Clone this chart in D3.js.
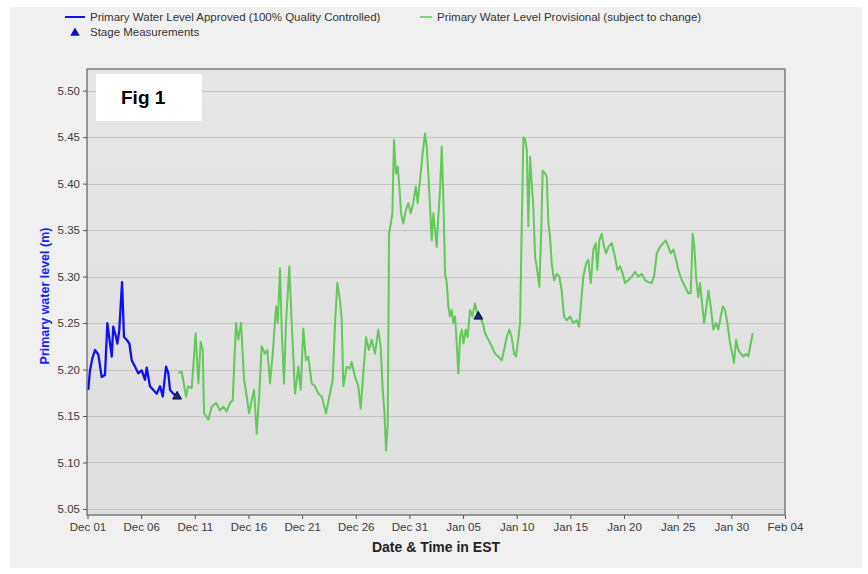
<!DOCTYPE html>
<html>
<head>
<meta charset="utf-8">
<script src="https://cdn.jsdelivr.net/npm/d3@7"></script>
<style>
  html, body { margin: 0; padding: 0; background: #ffffff; }
  svg { display: block; }
  text { font-family: "Liberation Sans", Arial, sans-serif; }
</style>
</head>
<body>
<svg id="chart" width="868" height="574"></svg>
<script>
// Series: day offsets from Dec 01 and water levels (m)
const approvedDays = [0.07,0.23,0.45,0.70,1.01,1.32,1.63,1.85,2.10,2.26,2.40,2.66,2.78,2.96,3.22,3.40,3.65,3.90,4.12,4.43,4.73,5.05,5.36,5.52,5.82,6.13,6.45,6.76,7.01,7.32,7.53,7.69,8.00,8.31,8.62];
const approvedLevels = [5.178,5.199,5.212,5.221,5.216,5.192,5.194,5.250,5.228,5.214,5.246,5.235,5.228,5.242,5.294,5.235,5.232,5.228,5.210,5.203,5.196,5.199,5.189,5.202,5.182,5.178,5.174,5.182,5.171,5.203,5.196,5.178,5.174,5.171,5.169];

const provisionalDays = [8.46,8.78,9.18,9.39,9.71,10.08,10.33,10.55,10.74,10.86,11.26,11.57,11.98,12.35,12.66,12.97,13.28,13.53,13.84,14.05,14.31,14.59,14.84,15.05,15.30,15.52,15.77,16.01,16.23,16.54,16.76,17.01,17.26,17.57,17.73,17.94,18.10,18.31,18.50,18.81,19.03,19.34,19.65,19.87,20.11,20.36,20.58,20.89,21.20,21.51,21.83,22.23,22.54,22.85,23.07,23.28,23.53,23.69,23.84,24.16,24.46,24.62,24.93,25.24,25.46,25.70,25.96,26.21,26.49,26.79,27.10,27.32,27.51,27.66,27.82,27.98,28.10,28.26,28.41,28.56,28.75,28.91,29.06,29.22,29.43,29.68,29.90,30.12,30.36,30.59,30.77,30.99,31.24,31.45,31.61,31.76,31.92,32.08,32.23,32.39,32.54,32.69,32.85,33.01,33.16,33.32,33.48,33.63,33.78,33.94,34.09,34.25,34.41,34.56,34.72,34.88,35.03,35.25,35.43,35.65,35.86,36.11,36.33,36.58,36.83,37.05,37.35,37.67,37.98,38.28,38.60,38.82,39.07,39.31,39.53,39.75,39.93,40.09,40.31,40.47,40.62,40.78,40.94,41.08,41.24,41.40,41.55,41.71,41.86,42.11,42.27,42.42,42.64,42.80,42.95,43.10,43.26,43.48,43.73,43.97,44.19,44.41,44.66,44.97,45.27,45.59,45.81,45.99,46.21,46.46,46.67,46.90,47.14,47.36,47.51,47.70,47.92,48.14,48.32,48.54,48.85,49.16,49.38,49.63,49.88,50.09,50.40,50.72,51.02,51.33,51.65,51.96,52.26,52.58,52.80,53.05,53.36,53.66,53.89,54.13,54.35,54.60,54.85,55.06,55.38,55.69,55.99,56.21,56.40,56.55,56.71,56.92,57.08,57.24,57.46,57.64,57.86,58.08,58.32,58.57,58.79,59.01,59.20,59.41,59.63,59.88,60.09,60.25,60.44,60.65,60.88,61.12,61.37,61.58,61.81,61.99];
const provisionalLevels = [5.196,5.198,5.171,5.182,5.180,5.239,5.185,5.230,5.221,5.153,5.146,5.160,5.164,5.156,5.160,5.155,5.164,5.167,5.250,5.232,5.250,5.189,5.171,5.153,5.167,5.178,5.131,5.174,5.225,5.217,5.221,5.185,5.217,5.268,5.250,5.309,5.243,5.185,5.250,5.311,5.250,5.174,5.203,5.178,5.244,5.210,5.214,5.185,5.182,5.174,5.171,5.153,5.171,5.189,5.250,5.293,5.275,5.253,5.182,5.203,5.201,5.208,5.192,5.182,5.158,5.196,5.235,5.221,5.232,5.217,5.243,5.225,5.178,5.156,5.113,5.142,5.346,5.357,5.368,5.447,5.411,5.418,5.397,5.368,5.357,5.372,5.379,5.368,5.379,5.397,5.379,5.404,5.433,5.454,5.440,5.411,5.375,5.339,5.368,5.350,5.332,5.364,5.393,5.440,5.386,5.303,5.293,5.268,5.257,5.264,5.250,5.257,5.228,5.196,5.235,5.243,5.228,5.243,5.235,5.264,5.257,5.271,5.260,5.257,5.250,5.239,5.232,5.225,5.217,5.214,5.210,5.221,5.235,5.243,5.235,5.217,5.214,5.228,5.250,5.357,5.450,5.448,5.436,5.354,5.429,5.400,5.375,5.321,5.311,5.289,5.343,5.414,5.411,5.407,5.357,5.343,5.314,5.296,5.303,5.300,5.285,5.257,5.253,5.257,5.250,5.253,5.246,5.271,5.300,5.314,5.318,5.293,5.329,5.336,5.307,5.339,5.346,5.332,5.325,5.332,5.336,5.321,5.307,5.311,5.303,5.293,5.296,5.300,5.305,5.300,5.303,5.296,5.294,5.293,5.300,5.325,5.332,5.336,5.339,5.332,5.325,5.329,5.318,5.307,5.296,5.289,5.282,5.282,5.346,5.332,5.300,5.278,5.293,5.275,5.250,5.264,5.285,5.268,5.243,5.250,5.243,5.257,5.268,5.264,5.250,5.228,5.217,5.207,5.232,5.221,5.217,5.214,5.217,5.214,5.228,5.239];

const stageDays = [8.35, 36.42];
const stageLevels = [5.171, 5.257];

const levelTicks = [5.05, 5.10, 5.15, 5.20, 5.25, 5.30, 5.35, 5.40, 5.45, 5.50];
const tickDayOffsets = [0, 5, 10, 15, 20, 25, 30, 35, 40, 45, 50, 55, 60, 65];

const legendItems = [
  { label: "Primary Water Level Approved (100% Quality Controlled)", kind: "line", color: "#1010f0" },
  { label: "Primary Water Level Provisional (subject to change)", kind: "line", color: "#62c95a" },
  { label: "Stage Measurements", kind: "triangle", color: "#1010c8" }
];

const startDate = new Date(2012, 11, 1);
const toDate = d => new Date(startDate.getTime() + d * 864e5);

const svg = d3.select("#chart");

// page panel
svg.append("rect").attr("x", 10).attr("y", 7).attr("width", 852).attr("height", 561).attr("fill", "#f0f0f0");

const plot = { left: 87, top: 69, right: 785, bottom: 515 };

const x = d3.scaleTime()
  .domain([startDate, toDate(65)])
  .range([plot.left + 0.5, plot.right]);
const y = d3.scaleLinear()
  .domain([5.0435, 5.5233])
  .range([plot.bottom, plot.top]);

// plot background
const defs = svg.append("defs");
const grad = defs.append("linearGradient").attr("id", "bg").attr("x1", 0).attr("y1", 0).attr("x2", 0).attr("y2", 1);
grad.append("stop").attr("offset", "0%").attr("stop-color", "#e6e6e6");
grad.append("stop").attr("offset", "100%").attr("stop-color", "#dedede");
svg.append("rect")
  .attr("x", plot.left).attr("y", plot.top)
  .attr("width", plot.right - plot.left).attr("height", plot.bottom - plot.top)
  .attr("fill", "url(#bg)");

// horizontal gridlines
svg.append("g").selectAll("line").data(levelTicks).join("line")
  .attr("x1", plot.left).attr("x2", plot.right)
  .attr("y1", d => Math.round(y(d)) + 0.5).attr("y2", d => Math.round(y(d)) + 0.5)
  .attr("stroke", "#c3c3c3").attr("stroke-width", 1);

// "Fig 1" label box
svg.append("rect").attr("x", 96).attr("y", 74).attr("width", 106).attr("height", 47).attr("fill", "#ffffff");
svg.append("text").attr("x", 121).attr("y", 104)
  .attr("font-size", 19).attr("font-weight", "bold").attr("fill", "#000").text("Fig 1");

// series lines
const line = d3.line().x(p => x(toDate(p[0]))).y(p => y(p[1]));
const provisional = provisionalDays.map((d, i) => [d, provisionalLevels[i]]);
const approved = approvedDays.map((d, i) => [d, approvedLevels[i]]);

svg.append("path").datum(provisional).attr("d", line)
  .attr("fill", "none").attr("stroke", "#62c95a").attr("stroke-width", 2).attr("stroke-linejoin", "round");
svg.append("path").datum(approved).attr("d", line)
  .attr("fill", "none").attr("stroke", "#1010f0").attr("stroke-width", 2.3).attr("stroke-linejoin", "round");

// stage measurement markers
const tri = d3.symbol().type(d3.symbolTriangle).size(34);
svg.append("g").selectAll("path").data(stageDays.map((d, i) => [d, stageLevels[i]])).join("path")
  .attr("d", tri)
  .attr("transform", p => `translate(${x(toDate(p[0]))},${y(p[1])})`)
  .attr("fill", "#1c2a8c").attr("stroke", "#0c0c30").attr("stroke-width", 1);

// plot frame
svg.append("rect")
  .attr("x", plot.left).attr("y", plot.top)
  .attr("width", plot.right - plot.left).attr("height", plot.bottom - plot.top)
  .attr("fill", "none").attr("stroke", "#7a7a7a").attr("stroke-width", 1.5);

// axes
const yAxis = d3.axisLeft(y).tickValues(levelTicks).tickFormat(d3.format(".2f")).tickSize(4).tickPadding(3);
const gy = svg.append("g").attr("transform", `translate(${plot.left},0)`).call(yAxis);
gy.select(".domain").remove();
gy.selectAll(".tick line").attr("stroke", "#555");
gy.selectAll(".tick text").attr("font-size", 11.5).attr("fill", "#3a3a3a").attr("font-family", "Liberation Sans, Arial, sans-serif");

const xAxis = d3.axisBottom(x).tickValues(tickDayOffsets.map(toDate)).tickFormat(d3.timeFormat("%b %d")).tickSize(4).tickPadding(4);
const gx = svg.append("g").attr("transform", `translate(0,${plot.bottom})`).call(xAxis);
gx.select(".domain").remove();
gx.selectAll(".tick line").attr("stroke", "#555");
gx.selectAll(".tick text").attr("font-size", 11.5).attr("fill", "#3a3a3a").attr("font-family", "Liberation Sans, Arial, sans-serif");

// axis titles
svg.append("text")
  .attr("transform", `translate(49,296) rotate(-90)`)
  .attr("text-anchor", "middle")
  .attr("font-size", 12.5).attr("font-weight", "bold").attr("fill", "#1a1aff")
  .text("Primary water level (m)");
svg.append("text")
  .attr("x", (plot.left + plot.right) / 2).attr("y", 552)
  .attr("text-anchor", "middle")
  .attr("font-size", 14).attr("font-weight", "bold").attr("fill", "#222")
  .text("Date & Time in EST");

// legend
const legendPos = [{ x: 65, y: 17 }, { x: 418, y: 17 }, { x: 65, y: 32 }];
const lg = svg.append("g").selectAll("g").data(legendItems).join("g")
  .attr("transform", (d, i) => `translate(${legendPos[i].x},${legendPos[i].y})`);
lg.filter(d => d.kind === "line").append("line")
  .attr("x1", (d, i) => i === 0 ? 0 : 2).attr("x2", (d, i) => i === 0 ? 20 : 14)
  .attr("y1", 0).attr("y2", 0)
  .attr("stroke", d => d.color).attr("stroke-width", (d, i) => i === 0 ? 2 : 1.5);
lg.filter(d => d.kind === "triangle").append("path")
  .attr("d", d3.symbol().type(d3.symbolTriangle).size(40))
  .attr("transform", "translate(10,1)")
  .attr("fill", d => d.color);
lg.append("text")
  .attr("x", (d, i) => i === 1 ? 19 : 25).attr("y", 4)
  .attr("font-size", 11.5).attr("fill", "#333")
  .text(d => d.label);
</script>
</body>
</html>
